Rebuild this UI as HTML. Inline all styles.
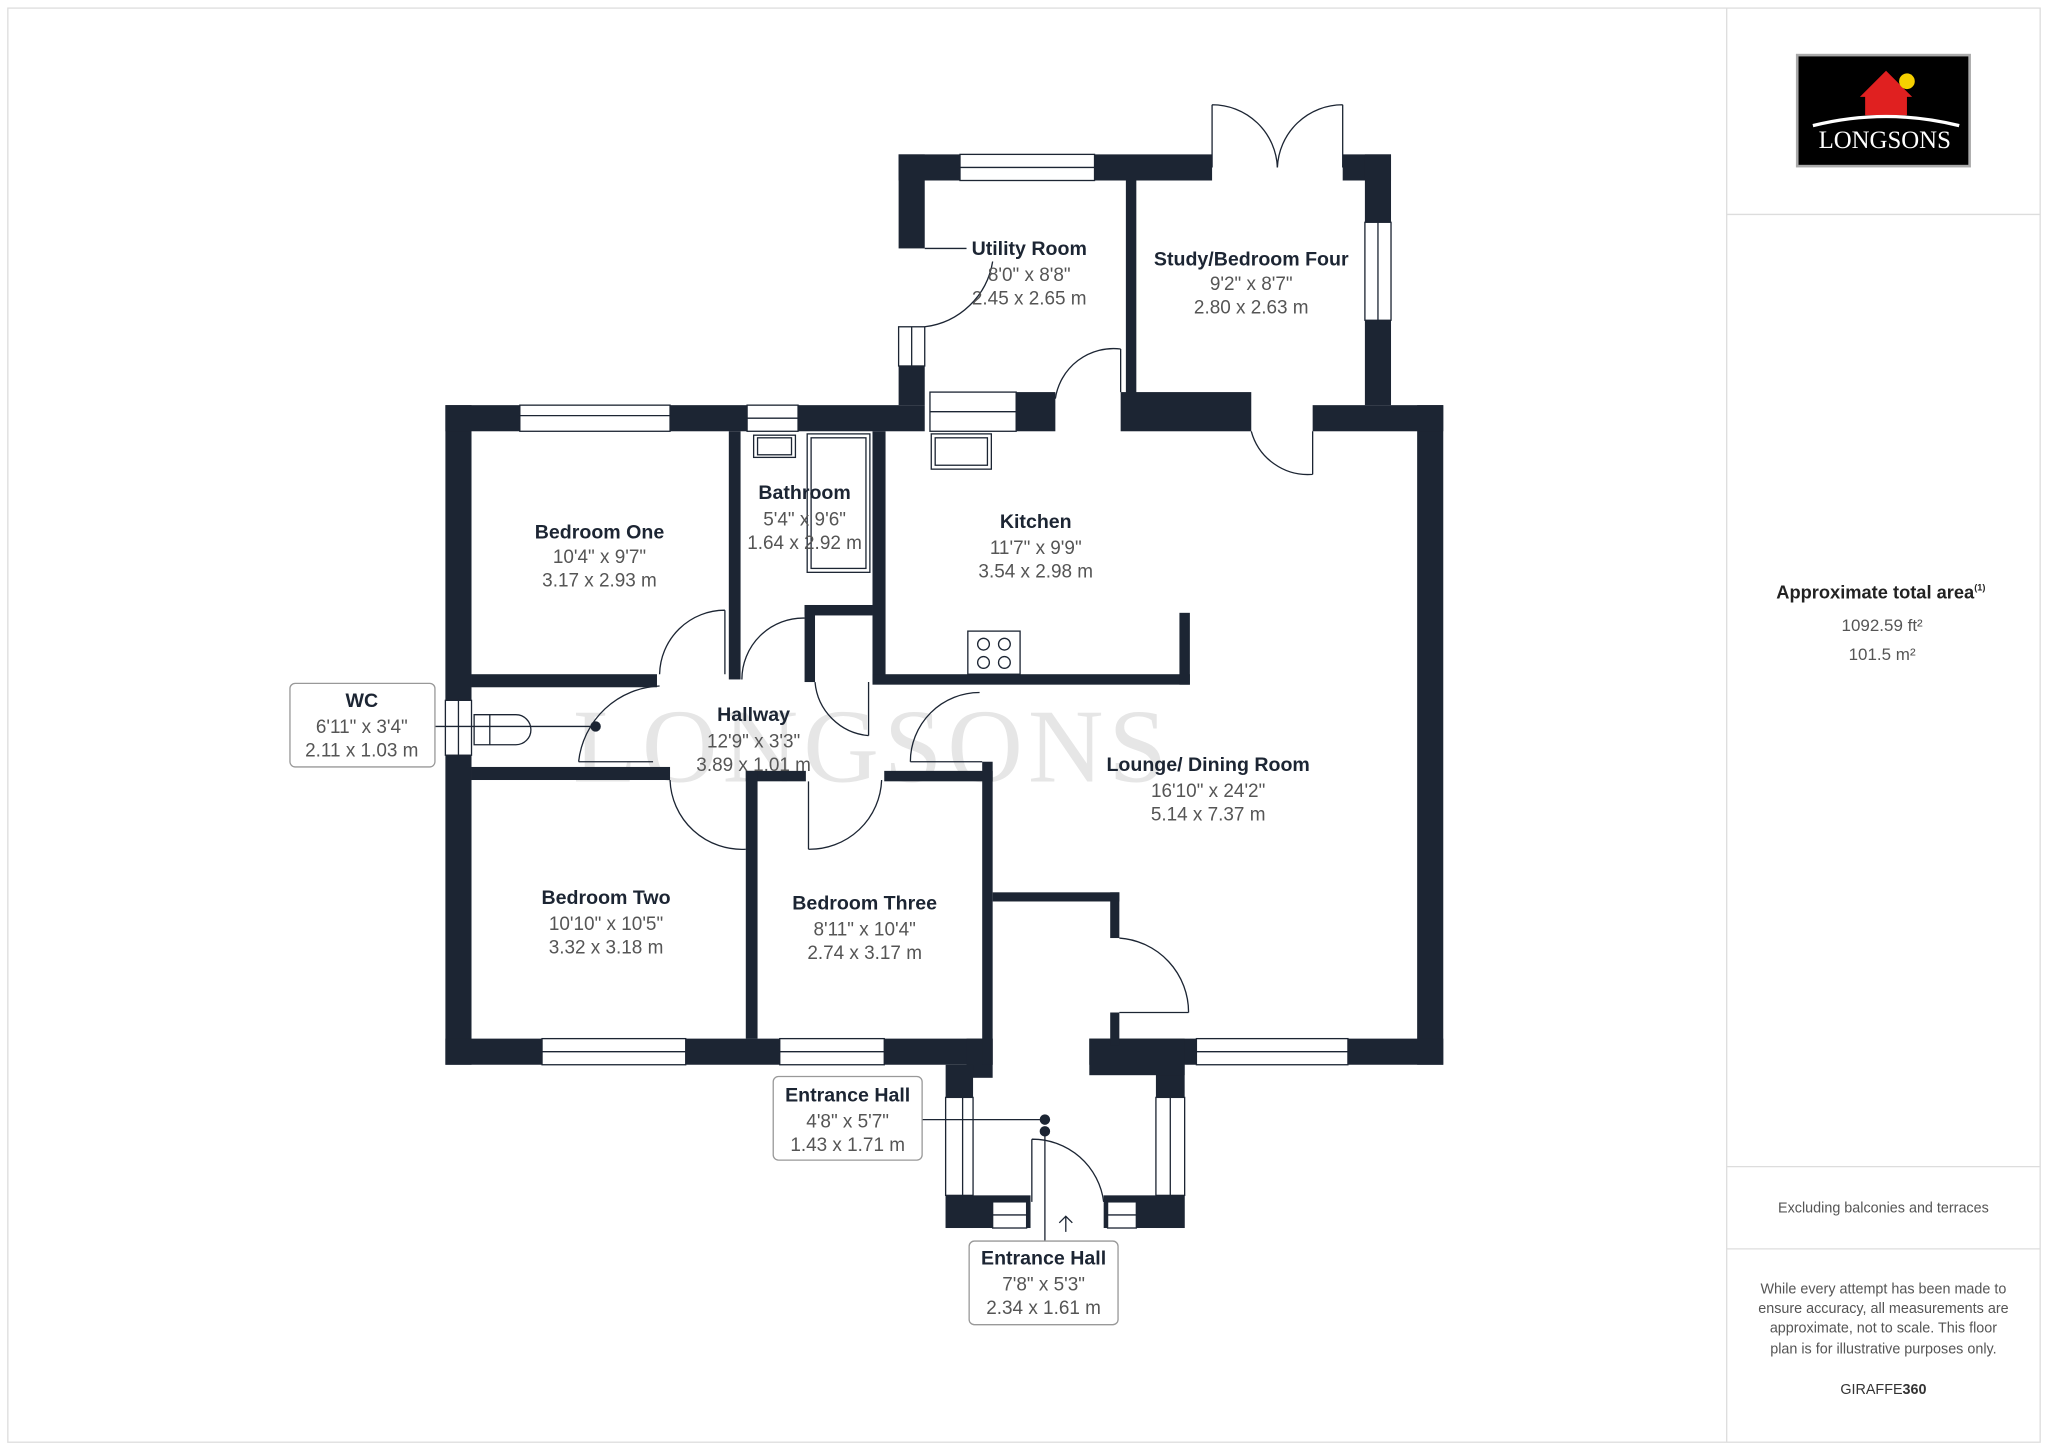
<!DOCTYPE html>
<html><head><meta charset="utf-8"><style>
html,body{margin:0;padding:0;background:#fff;}
svg{display:block;}
.w{fill:#1c2533;}
.win{fill:#fff;stroke:#1c2533;stroke-width:1;}
.ln{fill:none;stroke:#1c2533;stroke-width:1;}
.t{font-family:"Liberation Sans",sans-serif;font-weight:bold;font-size:15px;fill:#1c2533;text-anchor:middle;}
.d{font-family:"Liberation Sans",sans-serif;font-size:14.5px;fill:#555;text-anchor:middle;}
.s{font-family:"Liberation Sans",sans-serif;font-size:11px;fill:#555;text-anchor:middle;}
</style></head><body>
<svg width="2048" height="1449" viewBox="0 0 1568 1109" xmlns="http://www.w3.org/2000/svg">
<rect x="6" y="6" width="1556" height="1098" fill="#fff" stroke="#ddd"/>
<line x1="1322" y1="6" x2="1322" y2="1104" stroke="#ddd"/>
<line x1="1322" y1="164" x2="1562" y2="164" stroke="#ddd"/>
<line x1="1322" y1="893" x2="1562" y2="893" stroke="#ddd"/>
<line x1="1322" y1="956" x2="1562" y2="956" stroke="#ddd"/>

<text x="668" y="598" font-family="Liberation Serif,serif" font-size="80" fill="#e6e6e6" text-anchor="middle" letter-spacing="4">LONGSONS</text>

<rect class="w" x="341" y="310" width="20" height="505"/>
<rect class="w" x="1085" y="310" width="20" height="505"/>
<rect class="w" x="341" y="310" width="367" height="20"/>
<rect class="w" x="1005" y="310" width="100" height="20"/>
<rect class="w" x="858" y="300" width="100" height="30"/>
<rect class="w" x="778" y="300" width="30" height="30"/>
<rect class="win" x="398" y="310" width="115" height="20"/><line class="ln" x1="398" y1="318" x2="513" y2="318"/>
<rect class="win" x="572" y="310" width="39" height="20"/><line class="ln" x1="572" y1="320" x2="611" y2="320"/>
<rect class="win" x="712" y="300" width="66" height="30"/><line class="ln" x1="712" y1="315" x2="778" y2="315"/>
<rect class="win" x="341" y="536" width="20" height="42"/><line class="ln" x1="351" y1="536" x2="351" y2="578"/>
<rect class="w" x="688" y="118" width="20" height="72"/>
<rect class="w" x="688" y="280" width="20" height="30"/>
<rect class="win" x="688" y="250" width="20" height="30"/><line class="ln" x1="698" y1="250" x2="698" y2="280"/>
<rect class="w" x="688" y="118" width="240" height="20"/>
<rect class="win" x="735" y="118" width="103" height="20"/><line class="ln" x1="735" y1="128" x2="838" y2="128"/>
<rect class="w" x="1028" y="118" width="37" height="20"/>
<rect class="w" x="1045" y="118" width="20" height="192"/>
<rect class="win" x="1045" y="170" width="20" height="75"/><line class="ln" x1="1055" y1="170" x2="1055" y2="245"/>
<rect class="w" x="862" y="138" width="8" height="165"/>
<rect class="w" x="341" y="795" width="419" height="20"/>
<rect class="win" x="415" y="795" width="110" height="20"/><line class="ln" x1="415" y1="805" x2="525" y2="805"/>
<rect class="win" x="597" y="795" width="80" height="20"/><line class="ln" x1="597" y1="805" x2="677" y2="805"/>
<rect class="w" x="834" y="795" width="271" height="20"/>
<rect class="win" x="916" y="795" width="116" height="20"/><line class="ln" x1="916" y1="805" x2="1032" y2="805"/>
<rect class="w" x="740" y="795" width="20" height="30"/>
<rect class="w" x="724" y="815" width="21" height="125"/>
<rect class="win" x="724" y="840" width="21" height="75"/><line class="ln" x1="737" y1="840" x2="737" y2="915"/>
<rect class="w" x="724" y="915" width="65" height="25"/>
<rect class="win" x="760" y="920" width="26" height="20"/><line class="ln" x1="760" y1="930" x2="786" y2="930"/>
<rect class="w" x="885" y="815" width="22" height="125"/>
<rect class="win" x="885" y="840" width="22" height="75"/><line class="ln" x1="896" y1="840" x2="896" y2="915"/>
<rect class="w" x="845" y="915" width="62" height="25"/>
<rect class="win" x="848" y="920" width="22" height="20"/><line class="ln" x1="848" y1="930" x2="870" y2="930"/>
<rect class="w" x="834" y="795" width="73" height="28"/>
<rect class="w" x="361" y="516" width="142" height="10"/>
<rect class="w" x="558" y="330" width="9" height="190"/>
<rect class="w" x="668" y="330" width="10" height="192"/>
<rect class="w" x="616" y="463" width="52" height="8"/>
<rect class="w" x="616" y="463" width="8" height="59"/>
<rect class="w" x="668" y="516" width="243" height="8"/>
<rect class="w" x="903" y="469" width="8" height="55"/>
<rect class="w" x="361" y="587" width="152" height="10"/>
<rect class="w" x="571" y="590" width="46" height="8"/>
<rect class="w" x="677" y="590" width="83" height="8"/>
<rect class="w" x="752" y="583" width="8" height="232"/>
<rect class="w" x="571" y="590" width="9" height="205"/>
<rect class="w" x="760" y="683" width="97" height="7"/>
<rect class="w" x="850" y="683" width="7" height="35"/>
<rect class="w" x="850" y="775" width="7" height="25"/>

<g class="ln">
<path d="M928 80 L928 128 M928 80 A50 50 0 0 1 978 128"/><path d="M1028 80 L1028 128 M1028 80 A50 50 0 0 0 978 128"/>
<path d="M858 267 L858 300 M858 267 A45 45 0 0 0 808 305"/>
<path d="M708 190 L740 190 M708 250 A60 60 0 0 0 760 200"/>
<path d="M1005 330 L1005 363 M1005 363 A45 45 0 0 1 958 330"/>
<path d="M555 467 L555 516 M555 467 A50 50 0 0 0 505 516"/>
<path d="M616 473 A47 47 0 0 0 568 520"/>
<path d="M665 522 L665 563 M665 563 A45 45 0 0 1 624 522"/>
<path d="M697 583 L752 583 M697 583 A53 53 0 0 1 750 530"/>
<path d="M443 583 L500 583 M443 583 A65 65 0 0 1 505 525"/>
<path d="M571 650 A55 55 0 0 1 513 597"/>
<path d="M619 650 L619 598 M619 650 A55 55 0 0 0 675 597"/>
<path d="M857 775 L910 775 M910 775 A57 57 0 0 0 857 718"/>
<path d="M790 872 L790 920 M790 872 A55 55 0 0 1 845 920"/>
</g>
<rect class="ln" x="577" y="333" width="32" height="17"/><rect class="ln" x="580" y="335" width="26" height="13"/>
<rect class="ln" x="618" y="332" width="48" height="106"/><rect class="ln" x="621" y="335" width="42" height="100"/>
<rect class="ln" x="713" y="332" width="46" height="27"/><rect class="ln" x="716" y="335" width="40" height="21"/>
<rect class="ln" x="741" y="483" width="40" height="33"/>
<circle class="ln" cx="753" cy="493" r="4.5"/><circle class="ln" cx="769" cy="493" r="4.5"/><circle class="ln" cx="753" cy="507" r="4.5"/><circle class="ln" cx="769" cy="507" r="4.5"/>
<path class="ln" d="M363 547 L395 547 A11 11 0 0 1 395 570 L363 570 Z"/><line class="ln" x1="375" y1="547" x2="375" y2="570"/>

<line class="ln" x1="333" y1="556" x2="455" y2="556"/><circle cx="456" cy="556" r="4" fill="#1c2533"/>
<line class="ln" x1="706" y1="857" x2="800" y2="857"/><circle cx="800" cy="857" r="4" fill="#1c2533"/><circle cx="800" cy="866" r="4" fill="#1c2533"/>
<line class="ln" x1="800" y1="866" x2="800" y2="950"/>
<path class="ln" d="M816 943 L816 931 M811 936 L816 931 L821 936"/>

<rect x="222" y="523" width="111" height="64" rx="4" fill="#fff" stroke="#999"/>
<rect x="592" y="824" width="114" height="64" rx="4" fill="#fff" stroke="#999"/>
<rect x="742" y="950" width="114" height="64" rx="4" fill="#fff" stroke="#999"/>

<text class="t" x="788" y="195">Utility Room</text><text class="d" x="788" y="215">8'0" x 8'8"</text><text class="d" x="788" y="233">2.45 x 2.65 m</text>
<text class="t" x="958" y="203">Study/Bedroom Four</text><text class="d" x="958" y="222">9'2" x 8'7"</text><text class="d" x="958" y="240">2.80 x 2.63 m</text>
<text class="t" x="459" y="412">Bedroom One</text><text class="d" x="459" y="431">10'4" x 9'7"</text><text class="d" x="459" y="449">3.17 x 2.93 m</text>
<text class="t" x="616" y="382">Bathroom</text><text class="d" x="616" y="402">5'4" x 9'6"</text><text class="d" x="616" y="420">1.64 x 2.92 m</text>
<text class="t" x="793" y="404">Kitchen</text><text class="d" x="793" y="424">11'7" x 9'9"</text><text class="d" x="793" y="442">3.54 x 2.98 m</text>
<text class="t" x="577" y="552">Hallway</text><text class="d" x="577" y="572">12'9" x 3'3"</text><text class="d" x="577" y="590">3.89 x 1.01 m</text>
<text class="t" x="925" y="590">Lounge/ Dining Room</text><text class="d" x="925" y="610">16'10" x 24'2"</text><text class="d" x="925" y="628">5.14 x 7.37 m</text>
<text class="t" x="464" y="692">Bedroom Two</text><text class="d" x="464" y="712">10'10" x 10'5"</text><text class="d" x="464" y="730">3.32 x 3.18 m</text>
<text class="t" x="662" y="696">Bedroom Three</text><text class="d" x="662" y="716">8'11" x 10'4"</text><text class="d" x="662" y="734">2.74 x 3.17 m</text>
<text class="t" x="277" y="541">WC</text><text class="d" x="277" y="561">6'11" x 3'4"</text><text class="d" x="277" y="579">2.11 x 1.03 m</text>
<text class="t" x="649" y="843">Entrance Hall</text><text class="d" x="649" y="863">4'8" x 5'7"</text><text class="d" x="649" y="881">1.43 x 1.71 m</text>
<text class="t" x="799" y="968">Entrance Hall</text><text class="d" x="799" y="988">7'8" x 5'3"</text><text class="d" x="799" y="1006">2.34 x 1.61 m</text>

<rect x="1376" y="42" width="132" height="85" fill="#000" stroke="#aaa" stroke-width="2"/>
<path d="M1424 74 L1444 54 L1464 74 L1460 74 L1460 88 L1428 88 L1428 74 Z" fill="#e02020"/>
<circle cx="1460" cy="62" r="6" fill="#f5d000"/>
<path d="M1388 96 Q1444 82 1500 96" stroke="#fff" stroke-width="2.5" fill="none"/>
<text x="1443" y="113" font-family="Liberation Serif,serif" font-size="19" fill="#fff" text-anchor="middle">LONGSONS</text>

<text x="1440" y="458" font-family="Liberation Sans,sans-serif" font-weight="bold" font-size="14" fill="#222" text-anchor="middle">Approximate total area<tspan font-size="7" dy="-6">(1)</tspan></text>
<text x="1441" y="483" font-family="Liberation Sans,sans-serif" font-size="13" fill="#555" text-anchor="middle">1092.59 ft²</text>
<text x="1441" y="505" font-family="Liberation Sans,sans-serif" font-size="13" fill="#555" text-anchor="middle">101.5 m²</text>
<text class="s" x="1442" y="928">Excluding balconies and terraces</text>
<text class="s" x="1442" y="990">While every attempt has been made to</text>
<text class="s" x="1442" y="1005">ensure accuracy, all measurements are</text>
<text class="s" x="1442" y="1020">approximate, not to scale. This floor</text>
<text class="s" x="1442" y="1036">plan is for illustrative purposes only.</text>
<text x="1442" y="1067" font-family="Liberation Sans,sans-serif" font-size="11" fill="#333" text-anchor="middle">GIRAFFE<tspan font-weight="bold">360</tspan></text>
</svg>
</body></html>
